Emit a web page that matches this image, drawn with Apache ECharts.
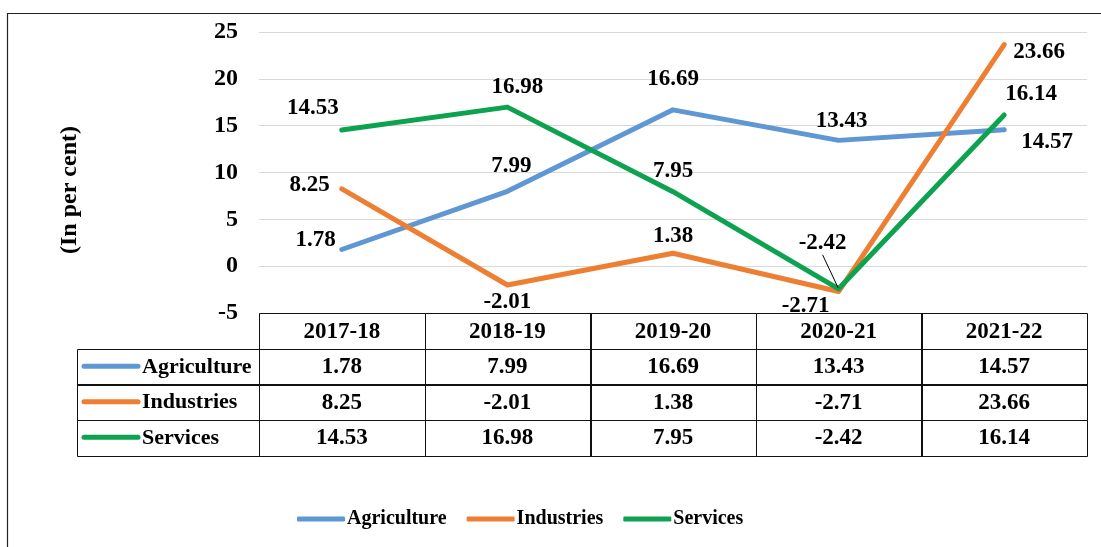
<!DOCTYPE html>
<html>
<head>
<meta charset="utf-8">
<script src="https://cdn.jsdelivr.net/npm/echarts@6/dist/echarts.min.js"></script>
<style>
  html, body { margin: 0; padding: 0; background: #fff; }
  #chart { width: 1101px; height: 547px; }
</style>
</head>
<body>
<div id="chart"></div>
<script>
// Growth by sector, per cent
const categories = ['2017-18', '2018-19', '2019-20', '2020-21', '2021-22'];
const agriculture = [1.78, 7.99, 16.69, 13.43, 14.57];
const industries = [8.25, -2.01, 1.38, -2.71, 23.66];
const services = [14.53, 16.98, 7.95, -2.42, 16.14];
const seriesNames = ['Agriculture', 'Industries', 'Services'];
const yMin = -5, yMax = 25, yStep = 5;
const yTitle = '(In per cent)';

const FONT = 'Liberation Serif';
const colors = ['#5F96D4', '#EE7E32', '#0DA24F'];

// Label placement per point: [position, dx, dy]
const placement = [
  [['left', 0, -9], ['top', 4, -8], ['top', 0, -13], ['top', 3, -2], ['right', 11, 12]],
  [['left', -6, -4], ['bottom', 0, 0], ['top', 0, 0], ['bottom', -33, -3], ['right', 3, 8]],
  [['top', -29, -5], ['top', 10, -3], ['top', 0, -3], ['top', -16, -28], ['top', 27, -3]]
];
// the one label that is pulled away from its point and tied back with a leader
const leader = { series: 2, index: 3 };

const values = [agriculture, industries, services];

const chart = echarts.init(document.getElementById('chart'), null, { renderer: 'canvas' });

function buildSeries(k) {
  return {
    name: seriesNames[k],
    type: 'line',
    data: values[k].map((v, i) => {
      const item = { value: v, label: { position: placement[k][i][0] } };
      if (k === leader.series && i === leader.index) {
        item.labelLine = { show: true, lineStyle: { color: '#000', width: 1 } };
      }
      return item;
    }),
    symbol: 'circle',
    symbolSize: 2,
    showSymbol: true,
    lineStyle: { width: 5, color: colors[k], cap: 'round', join: 'round' },
    itemStyle: { color: colors[k] },
    label: {
      show: true,
      fontFamily: FONT,
      fontWeight: 'bold',
      fontSize: 23,
      color: '#000',
      distance: 5
    },
    labelLayout: function (params) {
      const p = placement[k][params.dataIndex];
      return { dx: p[1], dy: p[2] };
    },
    emphasis: { disabled: true },
    silent: true,
    z: 3 + k
  };
}

chart.setOption({
  animation: false,
  backgroundColor: '#fff',
  grid: { left: 259, right: 14, top: 32, bottom: 234 },
  legend: {
    data: seriesNames.map(n => ({ name: n, icon: 'roundRect' })),
    top: 504,
    left: 292,
    itemWidth: 48,
    itemHeight: 5,
    itemGap: 20,
    textStyle: { fontFamily: FONT, fontWeight: 'bold', fontSize: 20, color: '#000', padding: [0, 0, 0, -3] }
  },
  xAxis: {
    type: 'category',
    data: categories,
    boundaryGap: true,
    axisLine: { show: false },
    axisTick: { show: false },
    axisLabel: { show: false },
    splitLine: { show: false }
  },
  yAxis: {
    type: 'value',
    min: yMin,
    max: yMax,
    interval: yStep,
    axisLine: { show: false },
    axisTick: { show: false },
    axisLabel: { fontFamily: FONT, fontWeight: 'bold', fontSize: 24, color: '#000', margin: 21 },
    splitLine: { lineStyle: { color: '#d9d9d9', width: 1 } }
  },
  series: [0, 1, 2].map(buildSeries)
});

// Data table under the plot, aligned to the category bands of the x axis
function buildTable() {
  const xs = categories.map((c, i) => chart.convertToPixel({ xAxisIndex: 0 }, i));
  const band = xs[1] - xs[0];
  const top = chart.convertToPixel({ yAxisIndex: 0 }, yMin);
  const rowH = 35.5;
  const tableLeft = 77;
  const firstX = xs[0] - band / 2;
  const els = [];
  const cellText = (x, y, text, align, size) => ({
    type: 'text',
    x: x, y: y,
    style: {
      text: text,
      x: 0, y: 0,
      align: align || 'center',
      verticalAlign: 'middle',
      font: 'bold ' + (size || 23) + 'px "' + FONT + '"',
      fill: '#000'
    },
    z: 10, silent: true
  });
  const cellRect = (x, y, w, h) => ({
    type: 'rect',
    shape: { x: Math.round(x) + 0.5, y: Math.round(y) + 0.5, width: Math.round(w), height: Math.round(h) },
    style: { fill: null, stroke: '#111', lineWidth: 1 },
    z: 9, silent: true
  });
  // header row
  categories.forEach((c, i) => {
    els.push(cellRect(xs[i] - band / 2, top, band, rowH));
    els.push(cellText(xs[i], top + rowH / 2 + 1, c));
  });
  // series rows
  seriesNames.forEach((name, r) => {
    const y0 = top + rowH * (r + 1);
    const yc = y0 + rowH / 2;
    els.push(cellRect(tableLeft, y0, firstX - tableLeft, rowH));
    els.push({
      type: 'line',
      shape: { x1: tableLeft + 7, y1: yc, x2: tableLeft + 61, y2: yc },
      style: { stroke: colors[r], lineWidth: 5, lineCap: 'round' },
      z: 10, silent: true
    });
    els.push(cellText(tableLeft + 65, yc + 1, name, 'left', 22));
    values[r].forEach((v, i) => {
      els.push(cellRect(xs[i] - band / 2, y0, band, rowH));
      els.push(cellText(xs[i], yc + 1, v.toFixed(2)));
    });
  });
  // y axis title
  els.push({
    type: 'text',
    x: 70, y: 190,
    rotation: Math.PI / 2,
    style: {
      text: yTitle,
      x: 0, y: 0,
      align: 'center',
      verticalAlign: 'middle',
      font: 'bold 24px "' + FONT + '"',
      fill: '#000'
    },
    silent: true
  });
  // outer frame
  els.push({
    type: 'rect',
    shape: { x: 7.5, y: 13.5, width: 1200, height: 700 },
    style: { fill: null, stroke: '#222', lineWidth: 1.2 },
    silent: true
  });
  return els;
}

chart.setOption({ graphic: buildTable() });
</script>
</body>
</html>
